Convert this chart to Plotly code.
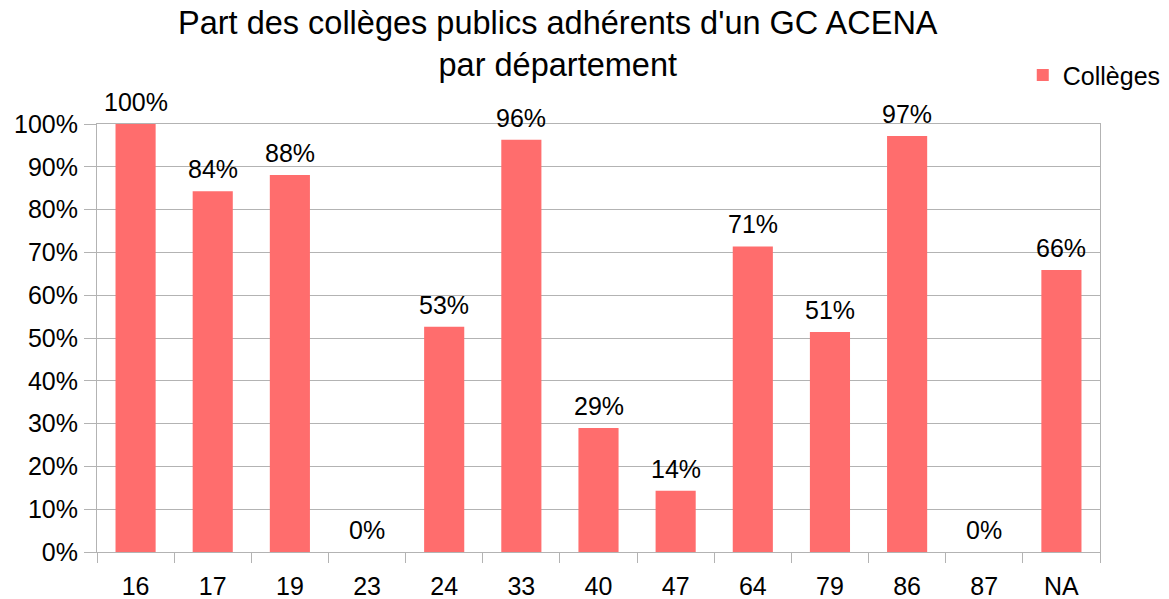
import plotly.graph_objects as go

departements = ["16", "17", "19", "23", "24", "33", "40", "47", "64", "79", "86", "87", "NA"]
part_colleges = [1.00, 0.843, 0.881, 0.0, 0.526, 0.963, 0.290, 0.143, 0.714, 0.514, 0.972, 0.0, 0.659]
y_ticks = [0, 0.1, 0.2, 0.3, 0.4, 0.5, 0.6, 0.7, 0.8, 0.9, 1.0]
y_tick_labels = ["0%", "10%", "20%", "30%", "40%", "50%", "60%", "70%", "80%", "90%", "100%"]

FONT = "Liberation Sans"
fig = go.Figure()
fig.add_trace(go.Bar(
    x=departements, y=part_colleges, name="Collèges",
    marker=dict(color="#ff6d6d", line=dict(width=0)),
))
# value labels placed at category index positions on the category axis
value_labels = [
    dict(x=i, y=v, xref="x", yref="y", text=f"{round(v*100):.0f}%",
         showarrow=False, xanchor="center", yanchor="bottom", yshift=6,
         font=dict(family=FONT, size=25, color="#000000"))
    for i, v in enumerate(part_colleges)
]
title_ann = dict(
    text="Part des collèges publics adhérents d'un GC ACENA<br>par département",
    xref="paper", yref="paper", x=0.4596, y=1.283, xanchor="center", yanchor="top",
    showarrow=False, font=dict(family=FONT, size=32.5, color="#000000"),
)
fig.update_layout(
    width=1169, height=599,
    margin=dict(l=97, r=69, t=124, b=47, autoexpand=False),
    paper_bgcolor="white", plot_bgcolor="white",
    bargap=0.48,
    showlegend=True,
    legend=dict(x=0.923, xanchor="left", y=1.114, yanchor="middle",
                font=dict(family=FONT, size=25, color="#000000"),
                bgcolor="rgba(0,0,0,0)", itemwidth=30),
    font=dict(family=FONT, size=25, color="#000000"),
    annotations=[title_ann] + value_labels,
)
fig.update_xaxes(
    type="category", categoryorder="array", categoryarray=departements,
    range=[-0.5, len(departements) - 0.5], tickangle=0,
    tickson="boundaries", ticks="outside", ticklen=10,
    tickcolor="#b3b3b3", tickwidth=1, ticklabelstandoff=12,
    showline=True, linecolor="#b3b3b3", mirror=True,
    showgrid=False, tickfont=dict(family=FONT, size=25, color="#000000"),
)
fig.update_yaxes(
    range=[0, 1], tickvals=y_ticks, ticktext=y_tick_labels,
    ticks="outside", ticklen=12, tickcolor="#b3b3b3", ticklabelstandoff=1,
    showline=True, linecolor="#b3b3b3", mirror=True,
    showgrid=True, gridcolor="#b3b3b3", gridwidth=1, zeroline=False,
    tickfont=dict(family=FONT, size=25, color="#000000"),
)
fig.write_html("out.html")
